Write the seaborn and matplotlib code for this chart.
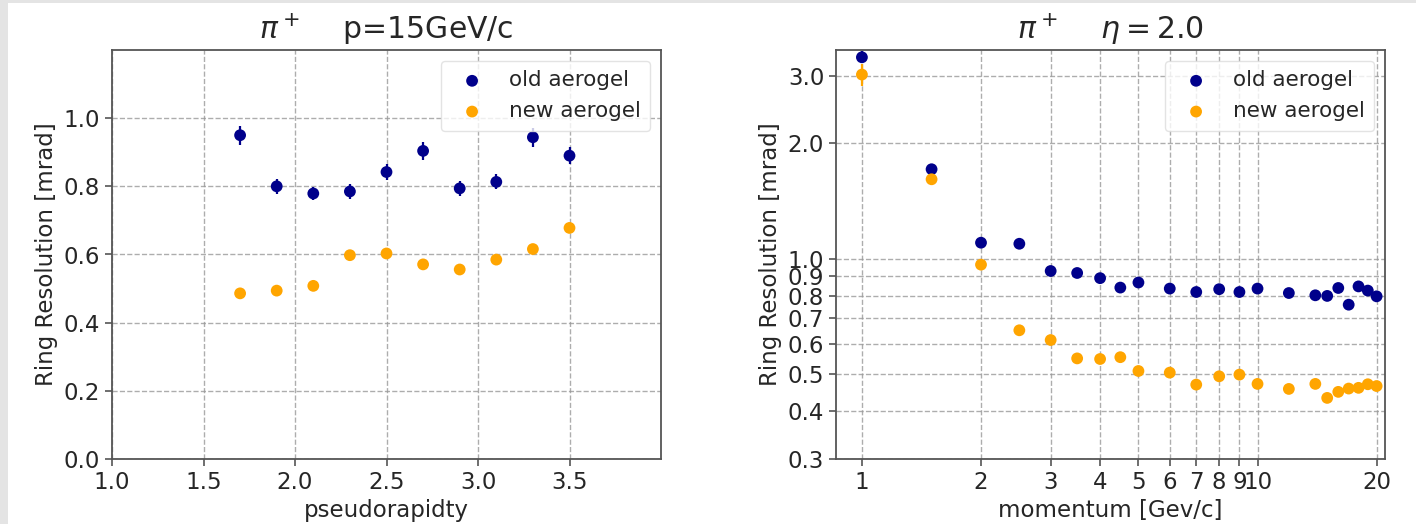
import matplotlib
matplotlib.use("Agg")
import matplotlib.pyplot as plt
import matplotlib.ticker as mticker
from matplotlib.patches import Rectangle
import seaborn as sns
import pandas as pd

# ---------------- data ----------------
eta = [1.7, 1.9, 2.1, 2.3, 2.5, 2.7, 2.9, 3.1, 3.3, 3.5]
eta_old = [0.950, 0.800, 0.779, 0.785, 0.842, 0.904, 0.794, 0.813, 0.944, 0.890]
eta_old_err = [0.028, 0.022, 0.020, 0.022, 0.024, 0.026, 0.022, 0.022, 0.028, 0.024]
eta_new = [0.486, 0.494, 0.508, 0.598, 0.603, 0.571, 0.556, 0.585, 0.616, 0.678]
eta_new_err = [0.010, 0.010, 0.011, 0.012, 0.012, 0.012, 0.012, 0.012, 0.013, 0.014]

mom = [1, 1.5, 2, 2.5, 3, 3.5, 4, 4.5, 5, 6, 7, 8, 9, 10, 12, 14, 15, 16, 17, 18, 19, 20]
mom_old = [3.35, 1.71, 1.10, 1.093, 0.928, 0.917, 0.889, 0.840, 0.866, 0.835, 0.818,
           0.832, 0.818, 0.835, 0.813, 0.802, 0.799, 0.838, 0.758, 0.846, 0.825, 0.797]
mom_old_err = [0.12, 0.05, 0.02, 0.02, 0.015, 0.012, 0.012, 0.012, 0.012, 0.01, 0.01,
               0.01, 0.01, 0.01, 0.01, 0.01, 0.01, 0.01, 0.01, 0.01, 0.01, 0.01]
mom_new = [3.02, 1.61, 0.964, 0.650, 0.613, 0.549, 0.547, 0.553, 0.509, 0.504, 0.469,
           0.493, 0.498, 0.471, 0.457, 0.471, 0.433, 0.449, 0.458, 0.460, 0.470, 0.465]
mom_new_err = [0.20, 0.05, 0.02, 0.01, 0.01, 0.008, 0.008, 0.008, 0.008, 0.007, 0.007,
               0.007, 0.007, 0.007, 0.007, 0.007, 0.007, 0.007, 0.007, 0.007, 0.007, 0.007]

labels = ["old aerogel", "new aerogel"]
colors = {"old aerogel": "#00008b", "new aerogel": "#ffa500"}

eta_xticks = [1.0, 1.5, 2.0, 2.5, 3.0, 3.5]
eta_yticks = [0.0, 0.2, 0.4, 0.6, 0.8, 1.0]
mom_xticks = [1, 2, 3, 4, 5, 6, 7, 8, 9, 10, 20]
mom_yticks = [0.3, 0.4, 0.5, 0.6, 0.7, 0.8, 0.9, 1.0, 2.0, 3.0]

# ---------------- figure ----------------
sns.set_style("white")
plt.rcParams["font.family"] = ["DejaVu Sans"]

FS = 16.5
fig = plt.figure(figsize=(14.16, 5.24), dpi=100)
fig.patch.set_facecolor("white")
W, H = 1416, 524
fig.patches.append(Rectangle((0, 0), 8 / W, 1, transform=fig.transFigure,
                             facecolor="#e4e4e4", edgecolor="none", zorder=-5))
fig.patches.append(Rectangle((0, 1 - 3 / H), 1, 3 / H, transform=fig.transFigure,
                             facecolor="#e4e4e4", edgecolor="none", zorder=-5))

ax1 = fig.add_axes([112 / W, (H - 459) / H, 549 / W, 409 / H])
ax2 = fig.add_axes([836 / W, (H - 459) / H, 549 / W, 409 / H])


def make_df(x, a, b):
    return pd.DataFrame({
        "x": list(x) + list(x),
        "y": list(a) + list(b),
        "series": [labels[0]] * len(x) + [labels[1]] * len(x),
    })


def draw(ax, x, a, aerr, b, berr):
    ax.errorbar(x, a, yerr=aerr, fmt="none", ecolor=colors[labels[0]],
                elinewidth=1.6, zorder=3)
    ax.errorbar(x, b, yerr=berr, fmt="none", ecolor=colors[labels[1]],
                elinewidth=1.6, zorder=5)
    df = make_df(x, a, b)
    sns.scatterplot(data=df[df.series == labels[0]], x="x", y="y", ax=ax,
                    color=colors[labels[0]], s=72, edgecolor="none",
                    label=labels[0], zorder=4)
    sns.scatterplot(data=df[df.series == labels[1]], x="x", y="y", ax=ax,
                    color=colors[labels[1]], s=72, edgecolor="none",
                    label=labels[1], zorder=6)


def style(ax):
    for s in ax.spines.values():
        s.set_color("#555555")
        s.set_linewidth(1.3)
        s.set_visible(True)
    ax.tick_params(axis="both", labelsize=FS, length=5, width=1.2,
                   color="#555555", direction="out", bottom=True, left=True)
    ax.set_ylabel("Ring Resolution [mrad]", fontsize=FS)
    leg = ax.legend(loc="upper right", fontsize=15.5, handletextpad=0.7,
                    framealpha=0.8, borderpad=0.45, labelspacing=0.5,
                    markerscale=1.0)
    leg.get_frame().set_edgecolor("#dddddd")


# left panel
draw(ax1, eta, eta_old, eta_old_err, eta_new, eta_new_err)
ax1.set_xlim(1.0, 4.0)
ax1.set_ylim(0.0, 1.2)
ax1.set_xticks(eta_xticks)
ax1.set_yticks(eta_yticks)
ax1.xaxis.set_major_formatter(mticker.FormatStrFormatter("%.1f"))
ax1.yaxis.set_major_formatter(mticker.FormatStrFormatter("%.1f"))
ax1.grid(True, linestyle="--", color="#999999", linewidth=1.0, alpha=0.8)
ax1.set_xlabel("pseudorapidty", fontsize=FS)
ax1.set_title(r"$\pi^+$    p=15GeV/c", fontsize=21.5, pad=8)
style(ax1)

# right panel
draw(ax2, mom, mom_old, mom_old_err, mom_new, mom_new_err)
ax2.set_xscale("log")
ax2.set_yscale("log")
ax2.set_xlim(0.86, 21)
ax2.set_ylim(0.3, 3.5)
ax2.set_xticks(mom_xticks)
ax2.xaxis.set_major_formatter(mticker.FormatStrFormatter("%g"))
ax2.xaxis.set_minor_locator(mticker.FixedLocator([0.9]))
ax2.xaxis.set_minor_formatter(mticker.NullFormatter())
ax2.set_yticks(mom_yticks)
ax2.yaxis.set_major_formatter(mticker.FormatStrFormatter("%.1f"))
ax2.yaxis.set_minor_locator(mticker.NullLocator())
ax2.grid(True, which="major", linestyle="--", color="#999999", linewidth=1.0, alpha=0.8)
ax2.set_xlabel("momentum [Gev/c]", fontsize=FS)
ax2.set_title(r"$\pi^+$    $\eta = 2.0$", fontsize=21.5, pad=8)
style(ax2)
ax2.tick_params(axis="x", which="minor", length=3, width=1.0, color="#555555")

fig.savefig("out.png", dpi=100)
